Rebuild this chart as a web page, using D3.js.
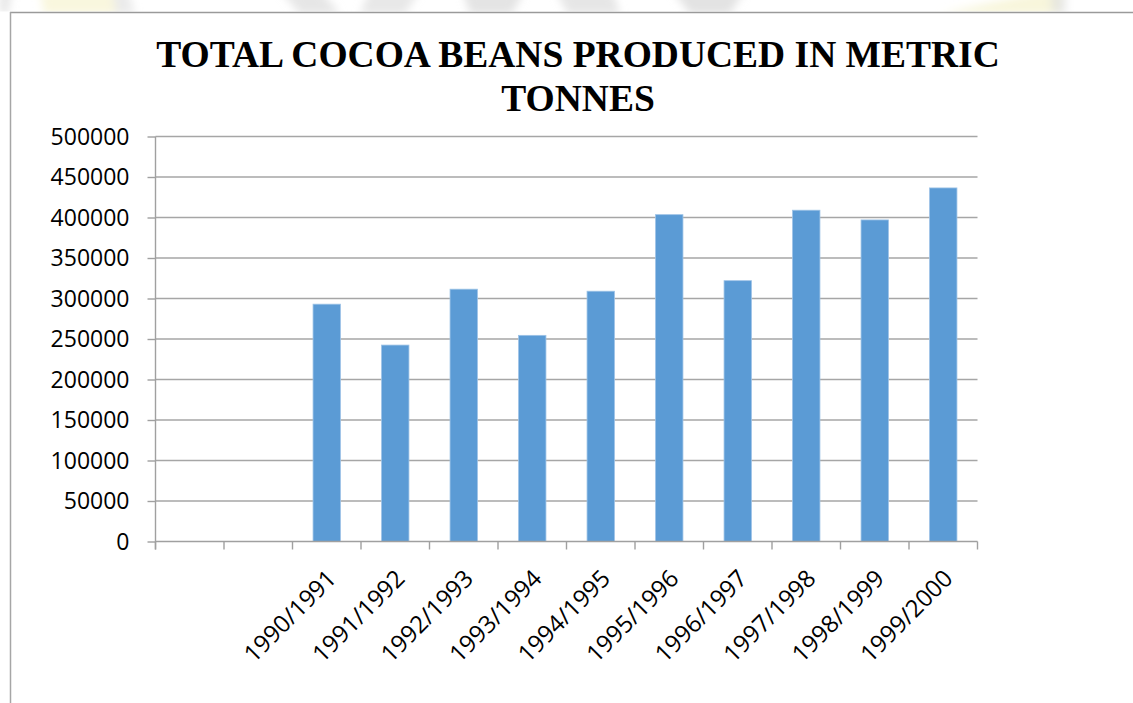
<!DOCTYPE html>
<html>
<head>
<meta charset="utf-8">
<script src="https://cdn.jsdelivr.net/npm/d3@7"></script>
<style>
  html, body { margin: 0; padding: 0; background: #ffffff; }
  svg { display: block; }
</style>
</head>
<body>
<svg id="chart" width="1133" height="703"></svg>
<script>
// Cocoa season labels (two leading empty slots on the category axis)
const categories = ["", "", "1990/1991", "1991/1992", "1992/1993", "1993/1994", "1994/1995",
                    "1995/1996", "1996/1997", "1997/1998", "1998/1999", "1999/2000"];
// Total cocoa beans produced, metric tonnes
const production = [null, null, 293000, 242500, 311500, 254500, 309000,
                    403500, 322000, 409000, 397000, 436500];
const yTicks = [0, 50000, 100000, 150000, 200000, 250000, 300000, 350000, 400000, 450000, 500000];
const titleLines = ["TOTAL COCOA BEANS PRODUCED IN METRIC", "TONNES"];

const svg = d3.select("#chart");
const W = 1133, H = 703;

// faint page artwork bleeding in above the chart frame
const defs = svg.append("defs");
defs.append("filter").attr("id", "soft")
  .append("feGaussianBlur").attr("stdDeviation", 4);
defs.append("clipPath").attr("id", "above")
  .append("rect").attr("x", 0).attr("y", 0).attr("width", W).attr("height", 11.5);
const art = svg.append("g").attr("clip-path", "url(#above)")
  .append("g").attr("filter", "url(#soft)");
const artShapes = [
  {pts: [[0,-10],[12,-10],[8,14],[0,14]], fill: "#d8d8d8"},
  {pts: [[40,-10],[112,-10],[118,14],[44,14]], fill: "#f6f2cc"},
  {pts: [[112,-10],[128,-10],[135,14],[116,14]], fill: "#e0e0e0"},
  {pts: [[280,-10],[320,-10],[340,14],[300,14]], fill: "#d9d9d9"},
  {pts: [[370,-10],[420,-10],[405,14],[360,14]], fill: "#dcdcdc"},
  {pts: [[462,-10],[525,-10],[512,14],[470,14]], fill: "#d6d6d6"},
  {pts: [[555,-10],[612,-10],[620,14],[568,14]], fill: "#d9d9d9"},
  {pts: [[672,-10],[745,-10],[730,14],[690,14]], fill: "#d4d4d4"},
  {pts: [[940,14],[1050,-10],[1062,-10],[1060,14]], fill: "#f5f1c8"},
  {pts: [[1050,-10],[1066,-10],[1066,14],[1052,14]], fill: "#dedede"}
];
art.selectAll("polygon").data(artShapes).join("polygon")
  .attr("points", d => d.pts.map(p => p.join(",")).join(" "))
  .attr("fill", d => d.fill)
  .attr("opacity", 0.65);

// chart frame (top and left edges visible)
svg.append("line").attr("x1", 10).attr("x2", W).attr("y1", 12.5).attr("y2", 12.5)
  .attr("stroke", "#9a9a9a").attr("stroke-width", 1.5);
svg.append("line").attr("x1", 10.5).attr("x2", 10.5).attr("y1", 12).attr("y2", H)
  .attr("stroke", "#a6a6a6").attr("stroke-width", 1.5);

// title
svg.append("g").selectAll("text").data(titleLines).join("text")
  .attr("x", 578)
  .attr("y", (d, i) => 67 + i * 44)
  .attr("text-anchor", "middle")
  .attr("font-family", "'Liberation Serif', 'Times New Roman', serif")
  .attr("font-weight", "bold")
  .attr("font-size", 37.5)
  .attr("fill", "#000")
  .text(d => d);

// scales
const x = d3.scaleBand()
  .domain(d3.range(categories.length))
  .range([155.5, 977.5])
  .paddingInner(0.6)
  .paddingOuter(0.3);
const y = d3.scaleLinear().domain([0, 500000]).range([541.5, 136.5]);

const labelFont = "'Open Sans', 'Noto Sans', sans-serif";

// horizontal gridlines
svg.append("g").selectAll("line").data(yTicks.filter(v => v > 0)).join("line")
  .attr("x1", x.range()[0]).attr("x2", x.range()[1])
  .attr("y1", d => y(d)).attr("y2", d => y(d))
  .attr("stroke", "#a6a6a6").attr("stroke-width", 1.4);

// bars
svg.append("g").selectAll("rect")
  .data(production.map((v, i) => ({v, i})).filter(d => d.v != null))
  .join("rect")
  .attr("x", d => x(d.i))
  .attr("width", x.bandwidth())
  .attr("y", d => y(d.v))
  .attr("height", d => y(0) - y(d.v))
  .attr("fill", "#5b9bd5")
  .attr("stroke", "#9dc3e6")
  .attr("stroke-width", 0.8);

// value axis
const yAxis = svg.append("g")
  .attr("transform", `translate(${x.range()[0]},0)`)
  .call(d3.axisLeft(y).tickValues(yTicks).tickFormat(d3.format("d"))
        .tickSize(8).tickPadding(18).tickSizeOuter(0));
yAxis.select(".domain").attr("stroke", "#a0a0a0").attr("stroke-width", 1.4)
  .attr("d", `M0,${y(500000)}V${y(0) + 8}`);
yAxis.selectAll(".tick line").attr("stroke", "#a0a0a0").attr("stroke-width", 1.4);
yAxis.selectAll(".tick text")
  .attr("font-family", labelFont).attr("font-size", 23).attr("fill", "#000")
  .attr("dy", "0.34em");

// category axis: baseline, boundary ticks and rotated labels
const step = x.step();
const boundaries = d3.range(categories.length + 1).map(i =>
  i < categories.length ? x(i) - step * x.paddingOuter() : x(i - 1) + x.bandwidth() + step * x.paddingOuter());
const xAxis = svg.append("g");
xAxis.append("line")
  .attr("x1", x.range()[0]).attr("x2", x.range()[1])
  .attr("y1", y(0)).attr("y2", y(0))
  .attr("stroke", "#a0a0a0").attr("stroke-width", 1.4);
xAxis.selectAll("line.tick").data(boundaries).join("line").attr("class", "tick")
  .attr("x1", d => d).attr("x2", d => d)
  .attr("y1", y(0)).attr("y2", y(0) + 8)
  .attr("stroke", "#a0a0a0").attr("stroke-width", 1.4);
xAxis.selectAll("text").data(categories.map((c, i) => ({c, i})).filter(d => d.c)).join("text")
  .attr("transform", d => `translate(${x(d.i) + x.bandwidth() / 2 + 11},${580}) rotate(-45)`)
  .attr("text-anchor", "end")
  .attr("font-family", labelFont).attr("font-size", 24).attr("fill", "#000")
  .text(d => d.c);
</script>
</body>
</html>
